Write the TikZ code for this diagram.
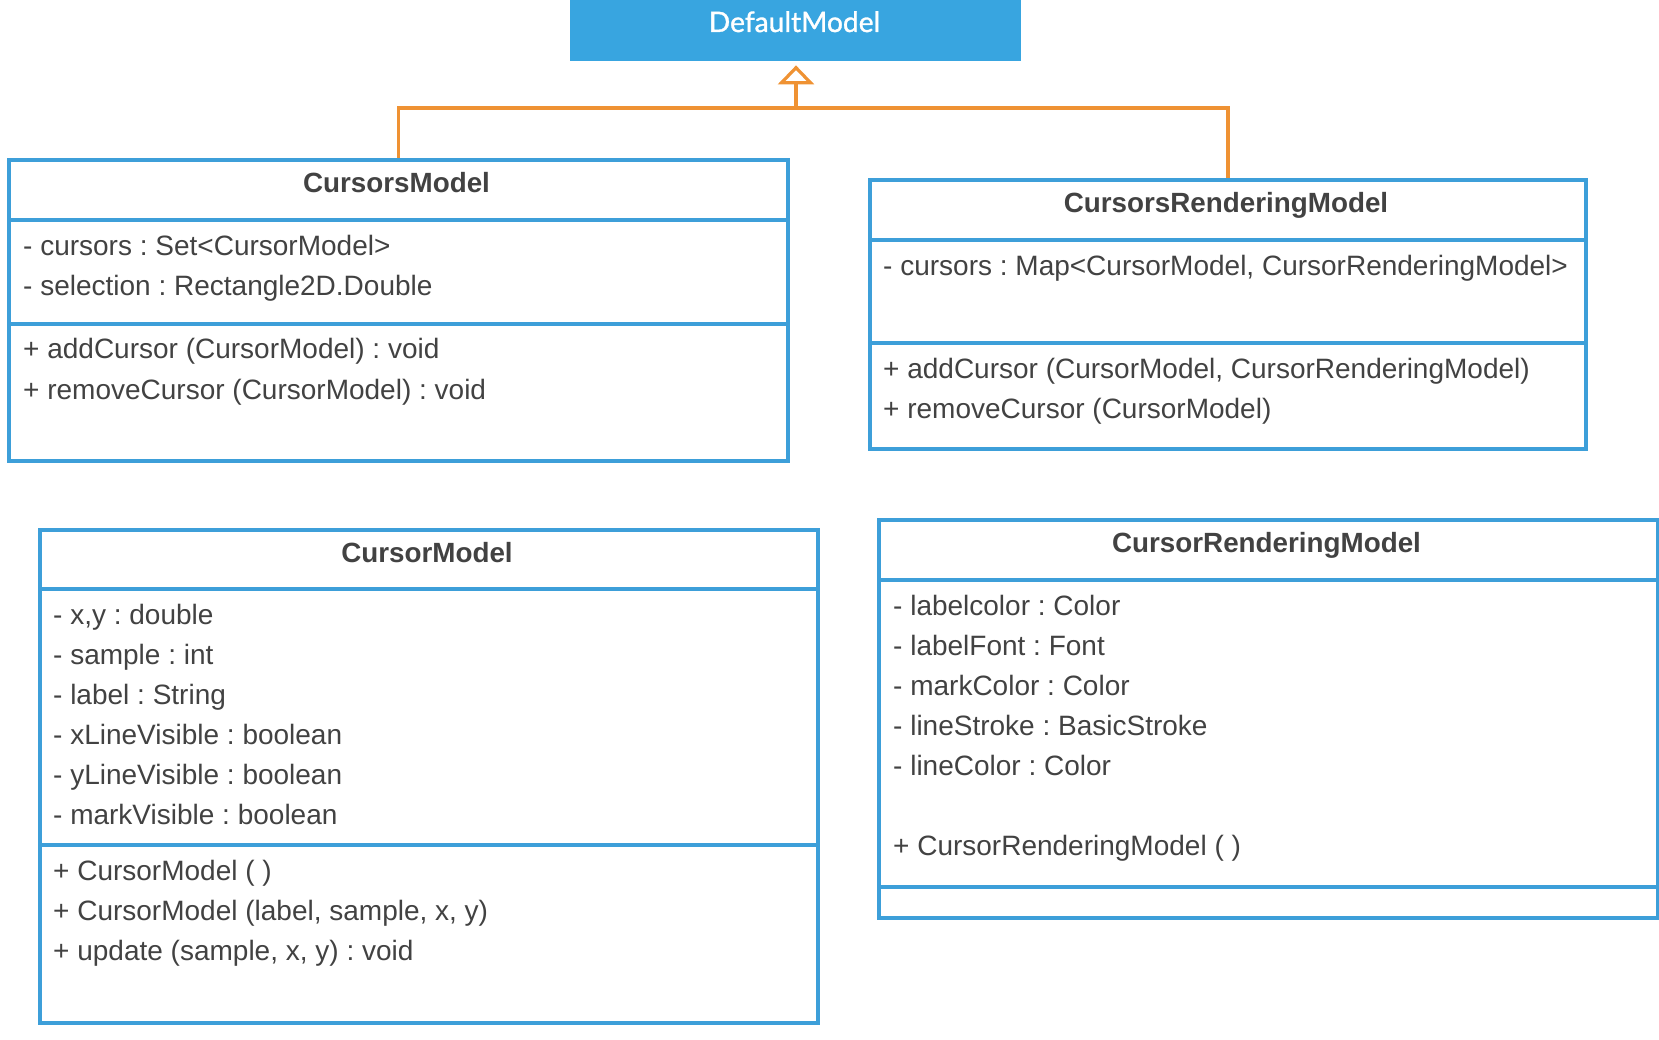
\documentclass[tikz,border=0pt]{standalone}
\usepackage{fontspec}
\setmainfont{Liberation Sans}
\newfontfamily\latofont{Lato}[FakeBold=1.2]
\usetikzlibrary{arrows.meta}
\definecolor{boxblue}{HTML}{3D9FD9}
\definecolor{fillblue}{HTML}{38A5E0}
\definecolor{umlorange}{HTML}{EF9233}
\definecolor{txtgray}{HTML}{424242}
\frenchspacing
\tikzset{
  classbox/.style={draw=boxblue, line width=4pt, fill=white, inner sep=0pt, anchor=north west},
  divline/.style={draw=boxblue, line width=4pt},
  member/.style={anchor=base west, inner sep=0pt, text=txtgray, font=\fontsize{28}{33}\selectfont},
  ctitle/.style={anchor=base, inner sep=0pt, text=txtgray, font=\fontsize{27.8}{33}\selectfont\bfseries},
  inherit/.style={draw=umlorange, line width=3.2pt},
}
\begin{document}
\begin{tikzpicture}[x=1pt,y=-1pt]
\frenchspacing
\useasboundingbox (0,0) rectangle (1659,1040);
% DefaultModel
\node[fill=fillblue, inner sep=0pt, minimum width=451pt, minimum height=61pt, anchor=north west] (dm) at (570,0) {};
\node[anchor=base, inner sep=0pt, text=white, font=\latofont\fontsize{28.2}{33}\selectfont] (dmt) at (794.5,32) {DefaultModel};
% CursorsModel
\node[classbox, minimum width=779pt, minimum height=301pt] (A) at (7,158) {};
\draw[divline] (A.west |- 0,220) -- (A.east |- 0,220);
\draw[divline] (A.west |- 0,324) -- (A.east |- 0,324);
\node[ctitle] (At) at (396.5,193) {CursorsModel};
\node[member] (A1) at (23,255.5) {- cursors : Set<CursorModel>};
\node[member] (A2) at (23,295.5) {- selection : Rectangle2D.Double};
\node[member] (A3) at (23,359) {+ addCursor (CursorModel) : void};
\node[member] (A4) at (23,399) {+ removeCursor (CursorModel) : void};
% CursorsRenderingModel
\node[classbox, minimum width=716pt, minimum height=269pt] (B) at (868,178) {};
\draw[divline] (B.west |- 0,240) -- (B.east |- 0,240);
\draw[divline] (B.west |- 0,343) -- (B.east |- 0,343);
\node[ctitle] (Bt) at (1226,212.5) {CursorsRenderingModel};
\node[member] (B1) at (883,275.5) {- cursors : Map<CursorModel, CursorRenderingModel>};
\node[member] (B2) at (883,378.5) {+ addCursor (CursorModel, CursorRenderingModel)};
\node[member] (B3) at (883,418.5) {+ removeCursor (CursorModel)};
% CursorModel
\node[classbox, minimum width=778pt, minimum height=493pt] (C) at (38,528) {};
\draw[divline] (C.west |- 0,589) -- (C.east |- 0,589);
\draw[divline] (C.west |- 0,845) -- (C.east |- 0,845);
\node[ctitle] (Ct) at (427,562.5) {CursorModel};
\node[member] (C1) at (53,624.5) {- x,y : double};
\node[member] (C2) at (53,664.5) {- sample : int};
\node[member] (C3) at (53,704.5) {- label : String};
\node[member] (C4) at (53,744.5) {- xLineVisible : boolean};
\node[member] (C5) at (53,784.5) {- yLineVisible : boolean};
\node[member] (C6) at (53,824.5) {- markVisible : boolean};
\node[member] (C7) at (53,880.5) {+ CursorModel ( )};
\node[member] (C8) at (53,920.5) {+ CursorModel (label, sample, x, y)};
\node[member] (C9) at (53,960.5) {+ update (sample, x, y) : void};
% CursorRenderingModel
\node[classbox, minimum width=779pt, minimum height=398pt] (D) at (877,518) {};
\draw[divline] (D.west |- 0,580) -- (D.east |- 0,580);
\draw[divline] (D.west |- 0,887) -- (D.east |- 0,887);
\node[ctitle] (Dt) at (1266.5,552.5) {CursorRenderingModel};
\node[member] (D1) at (893,615.5) {- labelcolor : Color};
\node[member] (D2) at (893,655.5) {- labelFont : Font};
\node[member] (D3) at (893,695.5) {- markColor : Color};
\node[member] (D4) at (893,735.5) {- lineStroke : BasicStroke};
\node[member] (D5) at (893,775.5) {- lineColor : Color};
\node[member] (D6) at (893,855.5) {+ CursorRenderingModel ( )};
% inheritance
\coordinate (hub) at (796,108);
\draw[inherit] (A.north) |- (hub);
\draw[inherit] (B.north) |- (hub);
\draw[inherit, -{Triangle[open, length=19pt, width=36pt, fill=white]}] (hub) -- ([yshift=-4pt]dm.south -| hub);
\end{tikzpicture}
\end{document}
